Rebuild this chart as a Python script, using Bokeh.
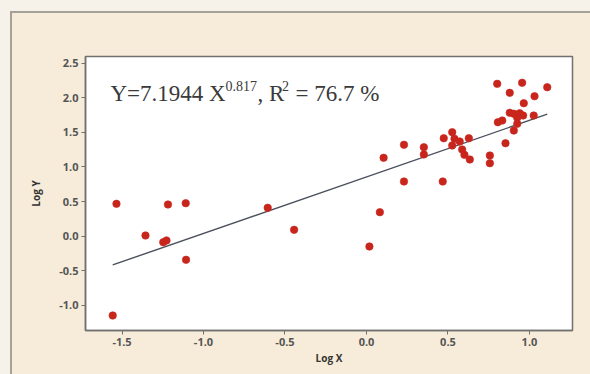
import math
from bokeh.plotting import figure
from bokeh.models import Range1d, Label, FixedTicker, PrintfTickFormatter, ColumnDataSource
from bokeh.embed import file_html
from bokeh.resources import INLINE

# ---- data ----
log_x = [-1.534, -1.557, -1.356, -1.247, -1.227, -1.218, -1.109, -1.107,
         -0.606, -0.444, 0.018, 0.082, 0.105, 0.230, 0.230, 0.352, 0.352,
         0.468, 0.474, 0.526, 0.540, 0.572, 0.628, 0.526, 0.587, 0.601,
         0.634, 0.757, 0.757, 0.802, 0.955, 1.109, 0.879, 1.031, 0.965,
         0.879, 0.904, 0.940, 0.961, 1.026, 0.925, 0.833, 0.806, 0.925,
         0.904, 0.853]
log_y = [0.468, -1.146, 0.010, -0.087, -0.062, 0.458, 0.477, -0.341,
         0.410, 0.092, -0.149, 0.347, 1.133, 1.321, 0.790, 1.286, 1.181,
         0.790, 1.416, 1.503, 1.408, 1.368, 1.416, 1.311, 1.253, 1.176,
         1.108, 1.166, 1.055, 2.202, 2.217, 2.153, 2.072, 2.023, 1.922,
         1.783, 1.769, 1.777, 1.744, 1.744, 1.711, 1.672, 1.647, 1.624,
         1.527, 1.344]
coef_a = 7.1944
exponent_b = 0.817
r_squared = 76.7
x_ticks = [-1.5, -1.0, -0.5, 0.0, 0.5, 1.0]
y_ticks = [-1.0, -0.5, 0.0, 0.5, 1.0, 1.5, 2.0, 2.5]

# ---- figure ----
X0, X1 = -1.724, 1.264
Y0, Y1 = -1.363, 2.597
FW, FH = 487, 274
p = figure(frame_width=FW, frame_height=FH,
           min_border_left=85, min_border_right=18,
           min_border_top=56, min_border_bottom=44,
           x_range=Range1d(X0, X1), y_range=Range1d(Y0, Y1),
           output_backend="svg", toolbar_location=None)
# transparent border area: the panel (beige with a grey top/left edge) is the host's CSS background
p.border_fill_alpha = 0.0
edge = "#a5a199"
p.styles = {
    "background": (
        f"linear-gradient({edge},{edge}) 11px 11px / 100% 2px no-repeat, "
        f"linear-gradient({edge},{edge}) 10px 11px / 2px 100% no-repeat, "
        "linear-gradient(#f6ecd9,#f6ecd9) 11px 12px / 100% 100% no-repeat, "
        "#f6f2ea"
    )
}
p.background_fill_color = "#ffffff"
p.outline_line_color = "#707070"
p.outline_line_width = 1.5
p.grid.visible = False

for ax in (p.xaxis, p.yaxis):
    ax.axis_line_color = "#707070"
    ax.axis_line_width = 1.5
    ax.major_tick_line_color = "#707070"
    ax.major_tick_out = 4
    ax.major_tick_in = 0
    ax.minor_tick_line_color = None
    ax.major_label_text_font = "Open Sans"
    ax.major_label_text_font_size = "11px"
    ax.major_label_text_font_style = "bold"
    ax.major_label_text_color = "#555555"
    ax.major_label_standoff = 3
    ax.formatter = PrintfTickFormatter(format="%.1f")
    ax.axis_label_text_font = "Open Sans"
    ax.axis_label_text_font_size = "10px"
    ax.axis_label_text_font_style = "bold"
    ax.axis_label_text_color = "#333333"

p.xaxis.ticker = FixedTicker(ticks=x_ticks)
p.yaxis.ticker = FixedTicker(ticks=y_ticks)
p.xaxis.axis_label = "Log X"
p.yaxis.axis_label = "Log Y"
p.xaxis.axis_label_standoff = 2
p.yaxis.axis_label_standoff = 13

# fitted line: log Y = log10(a) + b * log X
fx = [min(log_x), max(log_x)]
fy = [math.log10(coef_a) + exponent_b * v for v in fx]
p.line(fx, fy, line_color="#4a4f5c", line_width=1.4)

src = ColumnDataSource(dict(x=log_x, y=log_y))
p.scatter("x", "y", source=src, size=7.5, fill_color="#c8261c",
          line_color="#c8261c", line_alpha=0.6)

# equation text (positions given in page pixels)
PL, PT = 85, 56
def dx(px):
    return X0 + (px - PL) / FW * (X1 - X0)
def dy(py):
    return Y1 - (py - PT) / FH * (Y1 - Y0)

BIG, SUP = 23, 14
col = "#3a3a3a"
pieces = [
    ("Y=7.1944 X", 110, 93, BIG),
    (f"{exponent_b}", 225, 85, SUP),
    (", R", 257, 93, BIG),
    ("2", 281.5, 85, SUP),
    (f"= {r_squared} %", 295, 93, BIG),
]
for t, px, py, fs in pieces:
    p.add_layout(Label(x=dx(px), y=dy(py), text=t, text_font="Liberation Serif",
                       text_font_size=f"{fs}px", text_color=col,
                       text_baseline="alphabetic", text_align="left"))

open("out.html", "w").write(file_html(p, INLINE))
